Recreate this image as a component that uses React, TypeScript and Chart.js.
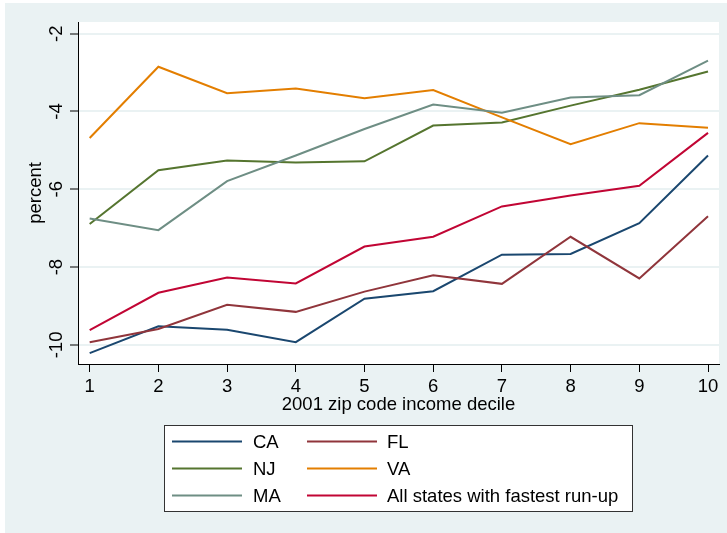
import React, { useEffect, useRef } from 'react';
import { Chart, registerables } from 'chart.js';

Chart.register(...registerables);

// ---- data ----
const deciles = [1, 2, 3, 4, 5, 6, 7, 8, 9, 10];
const seriesNames = ['CA', 'FL', 'NJ', 'VA', 'MA', 'All states with fastest run-up'];
const caValues = [-10.21, -9.52, -9.61, -9.93, -8.81, -8.62, -7.68, -7.66, -6.87, -5.13];
const flValues = [-9.93, -9.59, -8.97, -9.15, -8.63, -8.21, -8.43, -7.22, -8.29, -6.69];
const njValues = [-6.89, -5.51, -5.26, -5.31, -5.28, -4.36, -4.28, -3.85, -3.44, -2.97];
const vaValues = [-4.68, -2.85, -3.53, -3.41, -3.66, -3.45, -4.15, -4.84, -4.30, -4.42];
const maValues = [-6.75, -7.05, -5.79, -5.13, -4.45, -3.82, -4.03, -3.64, -3.58, -2.69];
const allValues = [-9.62, -8.66, -8.27, -8.42, -7.47, -7.22, -6.44, -6.16, -5.91, -4.55];
const seriesValues = [caValues, flValues, njValues, vaValues, maValues, allValues];
const seriesColors = ['#1a476f', '#90353b', '#55752f', '#e37e00', '#6e8e84', '#c10534'];
const yTicks = [-10, -8, -6, -4, -2];
const xTicks = [1, 2, 3, 4, 5, 6, 7, 8, 9, 10];
const xTitle = '2001 zip code income decile';
const yTitle = 'percent';

const FONT_FAMILY = '"Liberation Sans", Arial, Helvetica, sans-serif';
const FONT_SIZE = 18.5;
const GRAPH_BG = '#eaf2f3';

const backgroundPlugin = {
  id: 'stataBackground',
  beforeDraw(chart: any) {
    const { ctx, chartArea } = chart;
    ctx.save();
    ctx.fillStyle = '#ffffff';
    ctx.fillRect(0, 0, chart.width, chart.height);
    ctx.fillStyle = GRAPH_BG;
    ctx.fillRect(5, 3, chart.width - 5, chart.height - 3);
    ctx.fillStyle = '#ffffff';
    ctx.fillRect(chartArea.left, chartArea.top, chartArea.right - chartArea.left, chartArea.bottom - chartArea.top);
    ctx.restore();
  },
};

const legendPlugin = {
  id: 'stataLegend',
  afterDraw(chart: any) {
    const { ctx } = chart;
    ctx.save();
    const boxX = 164, boxY = 425, boxW = 468, boxH = 86;
    ctx.fillStyle = '#ffffff';
    ctx.fillRect(boxX, boxY, boxW, boxH);
    ctx.strokeStyle = '#333333';
    ctx.lineWidth = 1;
    ctx.strokeRect(boxX + 0.5, boxY + 0.5, boxW, boxH);
    const lineStarts = [172, 307];
    const lineLen = 70;
    const textStarts = [253, 387];
    ctx.font = `${FONT_SIZE}px ${FONT_FAMILY}`;
    ctx.textBaseline = 'middle';
    ctx.textAlign = 'left';
    chart.data.datasets.forEach((ds: any, i: number) => {
      const row = Math.floor(i / 2);
      const col = i % 2;
      const y = 441.5 + row * 27;
      ctx.strokeStyle = ds.borderColor;
      ctx.lineWidth = 2;
      ctx.beginPath();
      ctx.moveTo(lineStarts[col], y);
      ctx.lineTo(lineStarts[col] + lineLen, y);
      ctx.stroke();
      ctx.fillStyle = '#000000';
      ctx.fillText(ds.label, textStarts[col], y + 1);
    });
    ctx.restore();
  },
};

export default function App() {
  const canvasRef = useRef<HTMLCanvasElement>(null);

  useEffect(() => {
    const canvas = canvasRef.current;
    if (!canvas) return;
    const font = { family: FONT_FAMILY, size: FONT_SIZE };
    const n = seriesNames.length;
    const chart = new Chart(canvas, {
      type: 'line',
      data: {
        datasets: seriesNames.map((name, i) => ({
          label: name,
          data: deciles.map((d, j) => ({ x: d, y: seriesValues[i][j] })),
          borderColor: seriesColors[i],
          backgroundColor: seriesColors[i],
          borderWidth: 2,
          pointRadius: 0,
          tension: 0,
          fill: false,
          order: n - i,
        })),
      },
      options: {
        responsive: false,
        animation: false,
        events: [],
        layout: { padding: { left: 0, top: 22, right: 8, bottom: 113 } },
        plugins: {
          legend: { display: false },
          tooltip: { enabled: false },
          title: { display: false },
        },
        scales: {
          x: {
            type: 'linear',
            min: 0.83,
            max: 10.16,
            afterBuildTicks: (s: any) => {
              s.ticks = xTicks.map((v) => ({ value: v }));
            },
            afterFit: (s: any) => {
              s.height = 56;
            },
            grid: {
              drawOnChartArea: false,
              drawTicks: true,
              tickLength: 8,
              tickColor: '#000000',
              tickWidth: 1,
            },
            border: { display: true, color: '#000000', width: 1 },
            ticks: {
              color: '#000000',
              font,
              padding: 4,
              autoSkip: false,
              minRotation: 0,
              maxRotation: 0,
            },
            title: {
              display: true,
              text: xTitle,
              color: '#000000',
              font,
              padding: { top: 0, bottom: 4 },
            },
          },
          y: {
            type: 'linear',
            min: -10.49,
            max: -1.7,
            afterBuildTicks: (s: any) => {
              s.ticks = yTicks.map((v) => ({ value: v }));
            },
            afterFit: (s: any) => {
              s.width = 78;
            },
            grid: {
              color: GRAPH_BG,
              lineWidth: 2,
              drawTicks: true,
              tickLength: 8,
              tickColor: '#000000',
              tickWidth: 1,
            },
            border: { display: true, color: '#000000', width: 1 },
            ticks: {
              color: '#000000',
              font,
              padding: 0,
              autoSkip: false,
              minRotation: 90,
              maxRotation: 90,
              crossAlign: 'center',
            },
            title: {
              display: true,
              text: yTitle,
              color: '#000000',
              font,
              padding: { top: 25, bottom: 0 },
            },
          },
        },
      },
      plugins: [backgroundPlugin, legendPlugin],
    } as any);
    return () => chart.destroy();
  }, []);

  return (
    <div style={{ position: 'absolute', left: 0, top: 0, width: 727, height: 533 }}>
      <canvas ref={canvasRef} width={727} height={533} style={{ display: 'block', width: 727, height: 533 }} />
    </div>
  );
}
